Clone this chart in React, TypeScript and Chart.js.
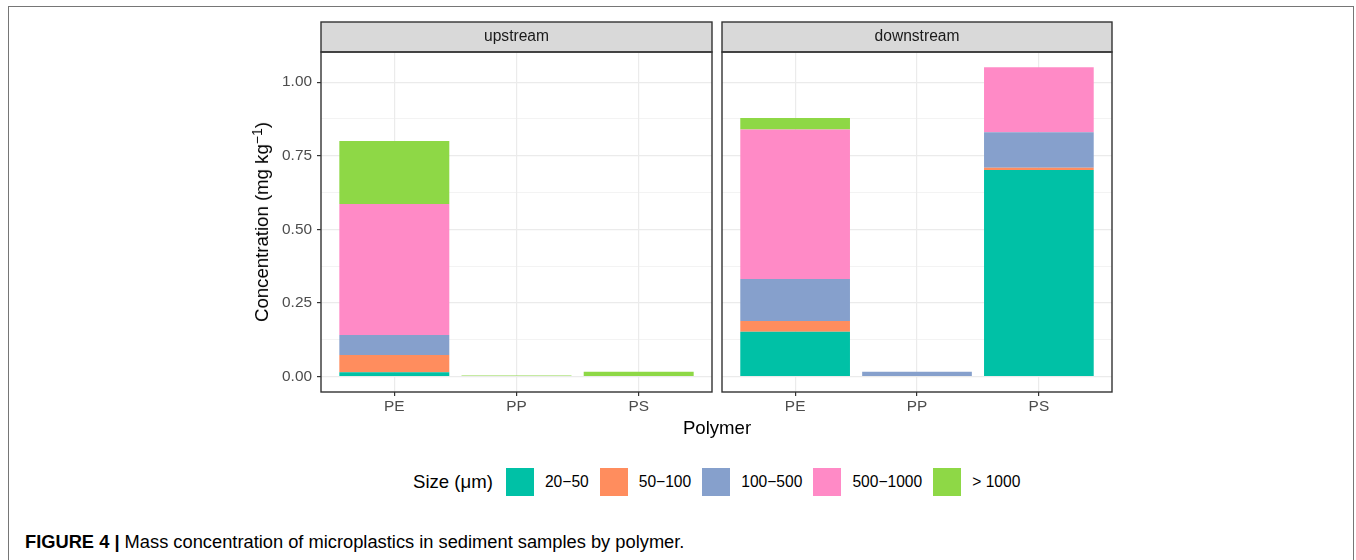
import React, { useEffect, useRef } from 'react';
import { Chart, registerables } from 'chart.js';

Chart.register(...registerables);

// ---------- data ----------
const categories = ['PE', 'PP', 'PS'];
const facets = ['upstream', 'downstream'];
const sizeClasses = ['20−50', '50−100', '100−500', '500−1000', '> 1000'];
const sizeColors = ['#00C1A6', '#FF8D5E', '#86A0CC', '#FF8AC6', '#8ED846'];

// upstream (PE, PP, PS)
const up20to50 = [0.015, 0, 0];
const up50to100 = [0.058, 0, 0];
const up100to500 = [0.068, 0.0016, 0];
const up500to1000 = [0.445, 0, 0];
const upOver1000 = [0.214, 0.0016, 0.016];

// downstream (PE, PP, PS)
const down20to50 = [0.152, 0, 0.702];
const down50to100 = [0.037, 0, 0.007];
const down100to500 = [0.142, 0.016, 0.121];
const down500to1000 = [0.508, 0, 0.221];
const downOver1000 = [0.039, 0, 0];

const yTickValues = [0, 0.125, 0.25, 0.375, 0.5, 0.625, 0.75, 0.875, 1.0];
const yMin = -0.0525;
const yMax = 1.1025;
const xMin = 0.4;
const xMax = 3.6;

const FONT = '"Liberation Sans", Arial, Helvetica, sans-serif';
Chart.defaults.font.family = FONT;

const isMajor = (v: number) => Math.abs(v * 4 - Math.round(v * 4)) < 1e-6;

const panelPlugin = {
  id: 'panelDecor',
  afterDraw(chart: any, _args: any, opts: any) {
    const { ctx, chartArea: a } = chart;
    const h = 30;
    ctx.save();
    ctx.fillStyle = '#d9d9d9';
    ctx.fillRect(a.left, a.top - h, a.right - a.left, h);
    ctx.strokeStyle = '#333333';
    ctx.lineWidth = 1.4;
    ctx.strokeRect(a.left, a.top - h, a.right - a.left, h);
    ctx.strokeRect(a.left, a.top, a.right - a.left, a.bottom - a.top);
    ctx.fillStyle = '#1a1a1a';
    ctx.font = '15.6px ' + FONT;
    ctx.textAlign = 'center';
    ctx.textBaseline = 'middle';
    ctx.fillText(opts.label, (a.left + a.right) / 2, a.top - h / 2);
    ctx.restore();
  },
};

type PanelProps = {
  facet: string;
  series: number[][];
  showY: boolean;
  left: number;
  width: number;
  yWidth: number;
};

function Panel({ facet, series, showY, left, width, yWidth }: PanelProps) {
  const ref = useRef<HTMLCanvasElement>(null);
  useEffect(() => {
    if (!ref.current) return;
    const chart = new Chart(ref.current, {
      type: 'bar',
      data: {
        datasets: sizeClasses.map((name, k) => ({
          label: name,
          data: series[k].map((v, i) => ({ x: i + 1, y: v })),
          backgroundColor: sizeColors[k],
          borderWidth: 0,
          categoryPercentage: 0.9,
          barPercentage: 1,
        })),
      },
      options: {
        animation: false,
        responsive: false,
        devicePixelRatio: 1,
        layout: { padding: { left: 0, right: 10, top: 42, bottom: 8 } },
        plugins: {
          legend: { display: false },
          tooltip: { enabled: false },
          title: { display: false },
          panelDecor: { label: facet },
        } as any,
        scales: {
          x: {
            type: 'linear',
            min: xMin,
            max: xMax,
            bounds: 'data',
            offset: false,
            stacked: true,
            afterBuildTicks: (ax: any) => {
              ax.ticks = categories.map((_, i) => ({ value: i + 1 }));
            },
            afterFit: (ax: any) => {
              ax.height = 40;
            },
            grid: {
              offset: false,
              color: '#ebebeb',
              lineWidth: 1.2,
              drawTicks: true,
              tickLength: 4,
              tickColor: '#333333',
              tickWidth: 1.2,
            },
            border: { display: false },
            ticks: {
              autoSkip: false,
              maxRotation: 0,
              padding: 2,
              color: '#4d4d4d',
              font: { size: 15.4 },
              callback: (v: any) => categories[Math.round(Number(v)) - 1] ?? '',
            },
          } as any,
          y: {
            type: 'linear',
            min: yMin,
            max: yMax,
            bounds: 'data',
            stacked: true,
            afterBuildTicks: (ax: any) => {
              ax.ticks = yTickValues.map((v) => ({ value: v }));
            },
            afterFit: (ax: any) => {
              ax.width = yWidth;
            },
            grid: {
              color: '#ebebeb',
              lineWidth: (c: any) => (isMajor(c.tick.value) ? 1.2 : 0.6),
              drawTicks: showY,
              tickLength: 4,
              tickColor: (c: any) => (isMajor(c.tick.value) ? '#333333' : 'rgba(0,0,0,0)'),
              tickWidth: 1.2,
            },
            border: { display: false },
            ticks: {
              display: showY,
              autoSkip: false,
              padding: 5,
              color: '#4d4d4d',
              font: { size: 15.4 },
              callback: (v: any) => (isMajor(Number(v)) ? Number(v).toFixed(2) : ''),
            },
          } as any,
        },
      },
      plugins: [panelPlugin as any],
    });
    return () => chart.destroy();
  }, [facet, series, showY, yWidth]);

  return (
    <canvas
      ref={ref}
      width={width}
      height={430}
      style={{ position: 'absolute', left, top: 10, width, height: 430 }}
    />
  );
}

export default function App() {
  const upSeries = [up20to50, up50to100, up100to500, up500to1000, upOver1000];
  const downSeries = [down20to50, down50to100, down100to500, down500to1000, downOver1000];

  return (
    <div
      style={{
        position: 'absolute',
        left: 0,
        top: 0,
        width: 1356,
        height: 560,
        overflow: 'hidden',
        background: '#ffffff',
        fontFamily: FONT,
      }}
    >
      <div
        style={{
          position: 'absolute',
          left: 8,
          top: 6,
          width: 1346,
          height: 620,
          border: '1px solid #767676',
          boxSizing: 'border-box',
        }}
      />
      <Panel facet={facets[0]} series={upSeries} showY={true} left={230} width={492} yWidth={91} />
      <Panel facet={facets[1]} series={downSeries} showY={false} left={717} width={405} yWidth={5} />

      {/* y axis title */}
      <div
        style={{
          position: 'absolute',
          left: 262,
          top: 222,
          transform: 'translate(-50%, -50%) rotate(-90deg)',
          whiteSpace: 'nowrap',
          fontSize: 18.6,
          color: '#000',
          lineHeight: '22px',
        }}
      >
        Concentration (mg kg
        <sup style={{ fontSize: '0.75em', lineHeight: 0, verticalAlign: '0.45em' }}>−1</sup>)
      </div>

      {/* x axis title */}
      <div
        style={{
          position: 'absolute',
          left: 717,
          top: 417,
          transform: 'translateX(-50%)',
          whiteSpace: 'nowrap',
          fontSize: 18.6,
          lineHeight: '22px',
          color: '#000',
        }}
      >
        Polymer
      </div>

      {/* legend */}
      <div
        style={{
          position: 'absolute',
          left: 413,
          top: 468,
          height: 28,
          display: 'flex',
          alignItems: 'center',
          whiteSpace: 'nowrap',
        }}
      >
        <span style={{ fontSize: 18.6, marginRight: 13, color: '#000' }}>Size (μm)</span>
        {sizeClasses.map((name, k) => (
          <React.Fragment key={name}>
            <span
              style={{
                display: 'inline-block',
                width: 28,
                height: 28,
                background: sizeColors[k],
                marginRight: 11,
              }}
            />
            <span style={{ fontSize: 15.6, marginRight: 11, color: '#000' }}>{name}</span>
          </React.Fragment>
        ))}
      </div>

      {/* caption */}
      <div
        style={{
          position: 'absolute',
          left: 25,
          top: 532,
          fontSize: 18.3,
          lineHeight: '20px',
          whiteSpace: 'nowrap',
          color: '#000',
        }}
      >
        <b>FIGURE 4 |</b> Mass concentration of microplastics in sediment samples by polymer.
      </div>
    </div>
  );
}
